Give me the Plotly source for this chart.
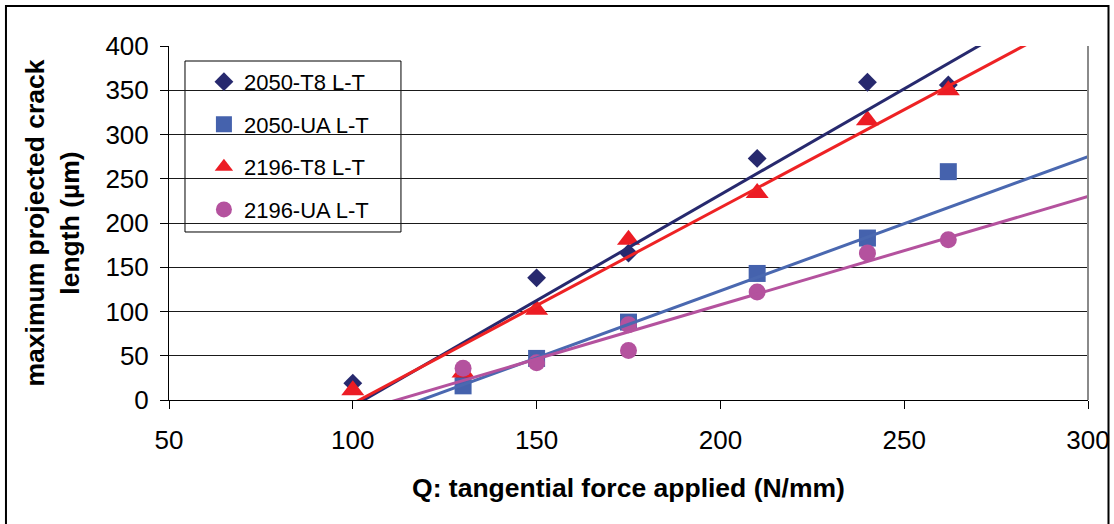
import plotly.graph_objects as go

# ---- data ----
q_2050_t8 = [100, 130, 150, 175, 210, 240, 262]
len_2050_t8 = [19, 28, 138, 166, 273, 359, 356]

q_2050_ua = [130, 150, 175, 210, 240, 262]
len_2050_ua = [16, 47, 88, 143, 183, 258]

q_2196_t8 = [100, 130, 150, 175, 210, 240, 262]
len_2196_t8 = [11, 31, 102, 181, 234, 316, 350]

q_2196_ua = [130, 150, 175, 175, 210, 240, 262]
len_2196_ua = [36, 42, 85, 56, 122, 166, 181]

series_names = ["2050-T8 L-T", "2050-UA L-T", "2196-T8 L-T", "2196-UA L-T"]
# linear trend lines (slope, intercept)
trend_slope = [2.392, 1.516, 2.214, 1.223]
trend_intercept = [-246.4, -179.8, -225.4, -137.0]

x_ticks = [50, 100, 150, 200, 250, 300]
y_ticks = [0, 50, 100, 150, 200, 250, 300, 350, 400]

# ---- styles ----
marker_colors = ["#27296e", "#4562ad", "#ec1c24", "#b4529e"]
line_colors = ["#27296e", "#4a68b0", "#ee2224", "#b4529e"]
symbols = ["diamond", "square", "triangle-up", "circle"]
sizes = [14.5, 17, 20, 17]

FONT = "Liberation Sans, Arial, sans-serif"

fig = go.Figure()
xs = [q_2050_t8, q_2050_ua, q_2196_t8, q_2196_ua]
ys = [len_2050_t8, len_2050_ua, len_2196_t8, len_2196_ua]

for i in range(4):
    fig.add_trace(go.Scatter(
        x=xs[i], y=ys[i], mode="markers", name=series_names[i],
        legendgroup=series_names[i],
        marker=dict(symbol=symbols[i], size=sizes[i], color=marker_colors[i],
                    line=dict(width=0)),
        cliponaxis=False,
    ))

x_span = [x_ticks[0], x_ticks[-1]]
for i in range(4):
    fig.add_trace(go.Scatter(
        x=x_span, y=[trend_slope[i] * v + trend_intercept[i] for v in x_span],
        mode="lines", line=dict(color=line_colors[i], width=3),
        showlegend=False, hoverinfo="skip",
    ))

fig.update_layout(
    width=1114, height=524,
    margin=dict(l=169, r=26, t=46, b=124),
    paper_bgcolor="white", plot_bgcolor="white",
    font=dict(family=FONT, color="black"),
    showlegend=True,
    legend=dict(
        x=0.038, y=0.958, xanchor="left", yanchor="top",
        bgcolor="rgba(0,0,0,0)", borderwidth=0,
        font=dict(family=FONT, size=22, color="black"),
        tracegroupgap=11, itemsizing="trace",
    ),
    xaxis=dict(
        range=[50, 300], tickvals=x_ticks, ticks="outside", ticklen=8,
        tickcolor="black", tickwidth=1, showline=True, linecolor="black", linewidth=1,
        showgrid=False, zeroline=False, automargin=False,
        tickfont=dict(family=FONT, size=26, color="black"),
        ticklabelstandoff=9,
        title=dict(text="<b>Q: tangential force applied (N/mm)</b>",
                   font=dict(family=FONT, size=26.5, color="black"), standoff=24),
    ),
    yaxis=dict(
        range=[0, 400], tickvals=y_ticks, ticks="outside", ticklen=8,
        tickcolor="black", tickwidth=1, showline=True, linecolor="black", linewidth=1,
        showgrid=True, gridcolor="#1a1a1a", gridwidth=1, zeroline=False, automargin=False,
        tickfont=dict(family=FONT, size=26, color="black"),
        ticklabelstandoff=6,
        title=dict(text="<b>maximum projected crack<br>length (µm)</b>",
                   font=dict(family=FONT, size=26.5, color="black"), standoff=18),
    ),
    shapes=[
        # legend box (white, bordered) drawn between grid and traces
        dict(type="rect", xref="paper", yref="paper", x0=0.0174, x1=0.2524,
             y0=0.4746, y1=0.9576, line=dict(color="black", width=1),
             fillcolor="white", layer="between"),
        # right border of plot area (grey)
        dict(type="line", xref="paper", yref="paper", x0=1, x1=1, y0=0, y1=1,
             line=dict(color="#8a8a8a", width=2)),
        # outer chart frame
        dict(type="rect", xref="paper", yref="paper", x0=-0.1774, x1=1.0223,
             y0=-0.45, y1=1.113, line=dict(color="black", width=2),
             fillcolor="rgba(0,0,0,0)", layer="above"),
    ],
)

fig.write_html("out.html", config={"displayModeBar": False},
               post_script="document.body.style.margin='0px';")
